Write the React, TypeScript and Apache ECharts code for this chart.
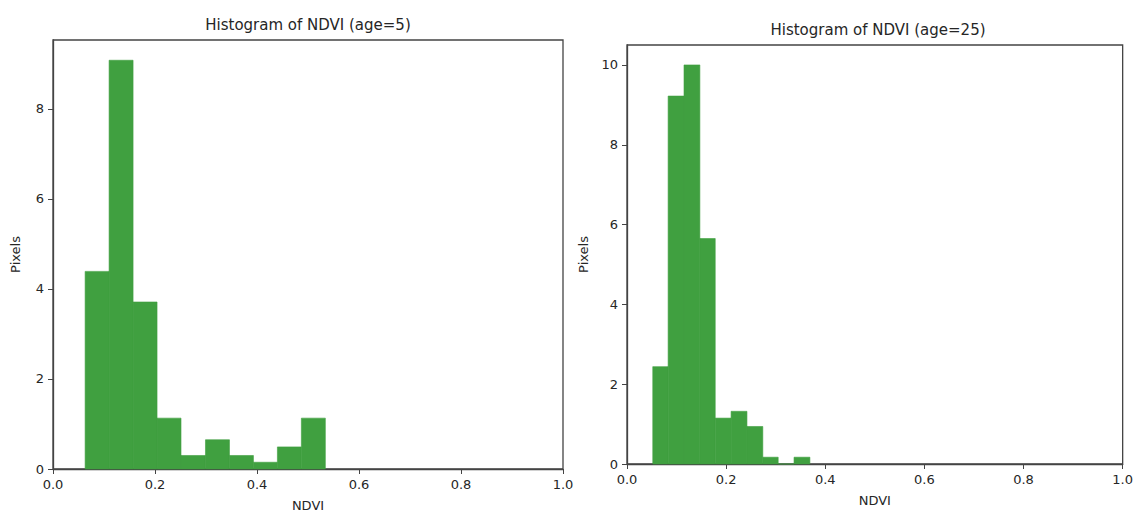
import React, { useEffect, useRef } from "react";
import * as echarts from "echarts";

// Left histogram (age=5): bin edges and density heights
const leftEdges = [0.063, 0.110, 0.157, 0.204, 0.251, 0.299, 0.346, 0.393, 0.440, 0.487, 0.534];
const leftHeights = [4.39, 9.08, 3.71, 1.13, 0.30, 0.65, 0.30, 0.15, 0.49, 1.13];

// Right histogram (age=25)
const rightEdges = [0.052, 0.083, 0.115, 0.147, 0.178, 0.210, 0.242, 0.274, 0.305, 0.337, 0.369];
const rightHeights = [2.44, 9.22, 10.0, 5.65, 1.15, 1.32, 0.94, 0.17, 0.0, 0.17];

const titles = ["Histogram of NDVI (age=5)", "Histogram of NDVI (age=25)"];
const xTicks = [0, 0.2, 0.4, 0.6, 0.8, 1.0];
const leftYTicks = [0, 2, 4, 6, 8];
const rightYTicks = [0, 2, 4, 6, 8, 10];
const xLabel = "NDVI";
const yLabel = "Pixels";

const FONT = "DejaVu Sans";
const TEXT = "#262626";
const BAR = "#40a040";
const AXIS = "#444";

function toBins(edges: number[], heights: number[]) {
  return heights.map((h, i) => [edges[i], edges[i + 1], h]);
}

export default function App() {
  const ref = useRef<HTMLDivElement>(null);
  useEffect(() => {
    if (!ref.current) return;
    const chart = echarts.init(ref.current, null, { renderer: "svg" });

    const renderItem = (params: any, api: any) => {
      const p0 = api.coord([api.value(0), 0]);
      const p1 = api.coord([api.value(1), api.value(2)]);
      return {
        type: "rect",
        shape: { x: p0[0], y: p1[1], width: p1[0] - p0[0], height: p0[1] - p1[1] },
        style: { fill: BAR, stroke: BAR, lineWidth: 0.6 },
      };
    };

    const xAxisBase = (gridIndex: number) => ({
      type: "value",
      gridIndex,
      min: xTicks[0],
      max: xTicks[xTicks.length - 1],
      interval: 0.2,
      splitLine: { show: false },
      axisLine: { show: true, lineStyle: { color: AXIS, width: 1.3 } },
      axisTick: { show: true, length: 5, lineStyle: { color: AXIS }, customValues: xTicks },
      axisLabel: {
        color: TEXT,
        fontFamily: FONT,
        fontSize: 13,
        margin: 9,
        customValues: xTicks,
        formatter: (v: number) => v.toFixed(1),
      },
      name: xLabel,
      nameLocation: "middle",
      nameGap: 30,
      nameTextStyle: { color: TEXT, fontFamily: FONT, fontSize: 13 },
    });

    const yAxisBase = (gridIndex: number, max: number, ticks: number[], gap: number) => ({
      type: "value",
      gridIndex,
      min: 0,
      max,
      interval: 2,
      splitLine: { show: false },
      axisLine: { show: true, lineStyle: { color: AXIS, width: 1.3 } },
      axisTick: { show: true, length: 5, lineStyle: { color: AXIS }, customValues: ticks },
      axisLabel: {
        color: TEXT,
        fontFamily: FONT,
        fontSize: 13,
        margin: 9,
        customValues: ticks,
        formatter: (v: number) => (ticks.indexOf(v) >= 0 ? String(v) : ""),
      },
      name: yLabel,
      nameLocation: "middle",
      nameGap: gap,
      nameTextStyle: { color: TEXT, fontFamily: FONT, fontSize: 13 },
    });

    chart.setOption({
      animation: false,
      backgroundColor: "#fff",
      grid: [
        { left: 53, right: 573, top: 40, bottom: 49, show: true, borderColor: AXIS, borderWidth: 1.3 },
        { left: 627, right: 4, top: 45, bottom: 54, show: true, borderColor: AXIS, borderWidth: 1.3 },
      ],
      xAxis: [xAxisBase(0), xAxisBase(1)],
      yAxis: [yAxisBase(0, 9.53, leftYTicks, 31), yAxisBase(1, 10.5, rightYTicks, 37)],
      graphic: [
        {
          type: "text",
          x: 308,
          y: 25,
          style: { text: titles[0], fill: TEXT, font: `15px "${FONT}"`, textAlign: "center", textVerticalAlign: "middle" },
        },
        {
          type: "text",
          x: 878,
          y: 30,
          style: { text: titles[1], fill: TEXT, font: `15px "${FONT}"`, textAlign: "center", textVerticalAlign: "middle" },
        },
      ],
      series: [
        {
          type: "custom",
          xAxisIndex: 0,
          yAxisIndex: 0,
          renderItem,
          encode: { x: [0, 1], y: 2 },
          data: toBins(leftEdges, leftHeights),
        },
        {
          type: "custom",
          xAxisIndex: 1,
          yAxisIndex: 1,
          renderItem,
          encode: { x: [0, 1], y: 2 },
          data: toBins(rightEdges, rightHeights),
        },
      ],
    });

    return () => chart.dispose();
  }, []);

  return <div ref={ref} style={{ position: "absolute", left: 0, top: 0, width: 1136, height: 518 }} />;
}
